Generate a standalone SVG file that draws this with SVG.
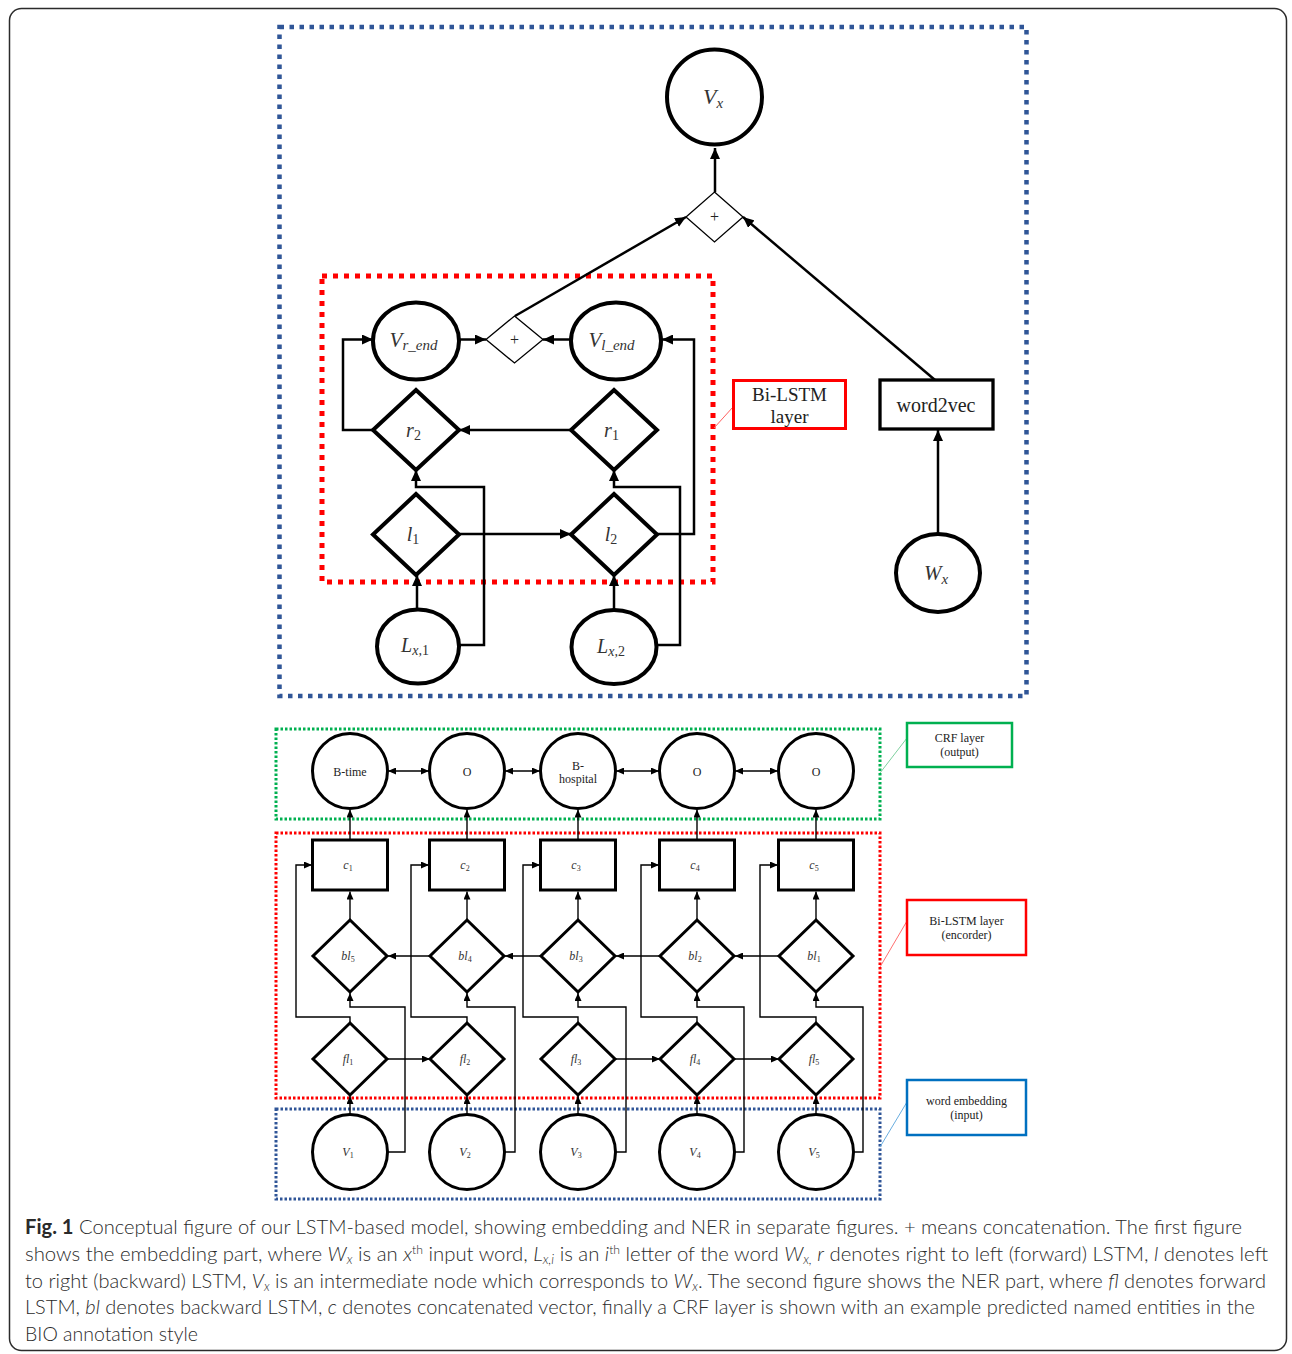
<svg xmlns="http://www.w3.org/2000/svg" width="1292" height="1354" viewBox="0 0 1292 1354">
<defs>
<marker id="ah" markerUnits="userSpaceOnUse" markerWidth="11" markerHeight="10" refX="11" refY="5" orient="auto"><path d="M0,0 L11,5 L0,10 Z" fill="#000"/></marker>
<marker id="as" markerUnits="userSpaceOnUse" markerWidth="8" markerHeight="7" refX="8" refY="3.5" orient="auto-start-reverse"><path d="M0,0 L8,3.5 L0,7 Z" fill="#000"/></marker>
</defs>
<style>
.card{fill:#fff;stroke:#2b2b2b;stroke-width:1.5}
.big{fill:#fff;stroke:#000;stroke-width:4}
.thin{fill:#fff;stroke:#000;stroke-width:1.3}
.sm{fill:#fff;stroke:#000;stroke-width:3}
.k1{fill:none;stroke:#000;stroke-width:2.5}
.k2{fill:none;stroke:#000;stroke-width:1.4}
.fb{fill:none;stroke:#2F5597;stroke-width:4.5;stroke-dasharray:4.5 5.5}
.fr{fill:none;stroke:#FF0000;stroke-width:5;stroke-dasharray:5 6}
.lg{fill:none;stroke:#00B050;stroke-width:3;stroke-dasharray:2.5 2}
.lr{fill:none;stroke:#FF0000;stroke-width:3;stroke-dasharray:2.5 2}
.lb{fill:none;stroke:#2F5597;stroke-width:3;stroke-dasharray:2.5 2}
.math{font-family:"Liberation Serif",serif;font-style:italic;fill:#333}
.up{font-style:normal}
.ser{font-family:"Liberation Serif",serif;fill:#222}
.cap{font-family:Lato,"Open Sans",sans-serif;font-size:20px;font-weight:300;fill:#2a2a2a}
.it{font-style:italic}
</style>
<rect class="card" x="9.5" y="8.5" width="1277" height="1342" rx="12"/>

<!-- frames -->
<g id="frames">
<rect class="fb" x="279.5" y="27" width="747" height="669"/>
<rect class="fr" x="322" y="276" width="391" height="306"/>
<rect class="lg" x="276" y="729" width="604" height="90"/>
<rect class="lr" x="276" y="833" width="604" height="265"/>
<rect class="lb" x="276" y="1109" width="604" height="90"/>
</g>

<!-- connectors -->
<g id="connectors">
<g class="k1">
<path d="M715,192 V148" marker-end="url(#ah)"/>
<path d="M515,316 L686,217" marker-end="url(#ah)"/>
<path d="M935,380 L743,217" marker-end="url(#ah)"/>
<path d="M938,533 V430" marker-end="url(#ah)"/>
<path d="M459,339.5 H486" marker-end="url(#ah)"/>
<path d="M571,339.5 H543" marker-end="url(#ah)"/>
<path d="M571,430 H459" marker-end="url(#ah)"/>
<path d="M373,430 H343 V339.5 H373" marker-end="url(#ah)"/>
<path d="M657,534 H694 V339.5 H662" marker-end="url(#ah)"/>
<path d="M459,534 H571" marker-end="url(#ah)"/>
<path d="M417,610 V575" marker-end="url(#ah)"/>
<path d="M614,610 V575" marker-end="url(#ah)"/>
<path d="M459,645 H484 V487 H416 V470" marker-end="url(#ah)"/>
<path d="M656,645 H680 V487 H614 V470" marker-end="url(#ah)"/>
</g>
<g fill="none" stroke-width="1">
<path d="M733,407 L714,428" stroke="#ff6060"/>
<path d="M907,738 L880,773" stroke="#7fd09f"/>
<path d="M907,921 L880,967" stroke="#ff7070"/>
<path d="M907,1102 L880,1147" stroke="#6aaee0"/>
</g>
<g class="k2">
<path d="M350,840 V809.5" marker-end="url(#as)"/>
<path d="M467,840 V809.5" marker-end="url(#as)"/>
<path d="M578,840 V809.5" marker-end="url(#as)"/>
<path d="M697,840 V809.5" marker-end="url(#as)"/>
<path d="M816,840 V809.5" marker-end="url(#as)"/>
<path d="M388,771 H429" marker-start="url(#as)" marker-end="url(#as)"/>
<path d="M505,771 H540" marker-start="url(#as)" marker-end="url(#as)"/>
<path d="M616,771 H659" marker-start="url(#as)" marker-end="url(#as)"/>
<path d="M735,771 H778" marker-start="url(#as)" marker-end="url(#as)"/>
<path d="M350,920 V891.5" marker-end="url(#as)"/>
<path d="M467,920 V891.5" marker-end="url(#as)"/>
<path d="M578,920 V891.5" marker-end="url(#as)"/>
<path d="M697,920 V891.5" marker-end="url(#as)"/>
<path d="M816,920 V891.5" marker-end="url(#as)"/>
<path d="M779,956 H735" marker-end="url(#as)"/>
<path d="M660,956 H616" marker-end="url(#as)"/>
<path d="M541,956 H505" marker-end="url(#as)"/>
<path d="M430,956 H388" marker-end="url(#as)"/>
<path d="M387,1059 H430" marker-end="url(#as)"/>
<path d="M615,1059 H660" marker-end="url(#as)"/>
<path d="M734,1059 H779" marker-end="url(#as)"/>
<path d="M350,1114.5 V1096" marker-end="url(#as)"/>
<path d="M467,1114.5 V1096" marker-end="url(#as)"/>
<path d="M578,1114.5 V1096" marker-end="url(#as)"/>
<path d="M697,1114.5 V1096" marker-end="url(#as)"/>
<path d="M816,1114.5 V1096" marker-end="url(#as)"/>
<path d="M387.5,1152 H405 V1007 H350 V993" marker-end="url(#as)"/>
<path d="M504.5,1152 H515 V1007 H467 V993" marker-end="url(#as)"/>
<path d="M615.5,1152 H626 V1007 H578 V993" marker-end="url(#as)"/>
<path d="M734.5,1152 H744 V1007 H697 V993" marker-end="url(#as)"/>
<path d="M853.5,1152 H863 V1007 H816 V993" marker-end="url(#as)"/>
<path d="M350,1023 V1017 H296 V865 H312" marker-end="url(#as)"/>
<path d="M467,1023 V1017 H411 V865 H429" marker-end="url(#as)"/>
<path d="M578,1023 V1017 H523 V865 H540" marker-end="url(#as)"/>
<path d="M697,1023 V1017 H641 V865 H659" marker-end="url(#as)"/>
<path d="M816,1023 V1017 H760 V865 H778" marker-end="url(#as)"/>
</g>
</g>

<!-- top figure nodes -->
<g id="Vx"><circle class="big" cx="714.5" cy="97" r="47.5"/><text class="math" x="713" y="104" text-anchor="middle" font-size="22">V<tspan font-size="15" dy="4">x</tspan></text></g>
<g id="plusTop"><polygon class="thin" points="714.5,192 743,217 714.5,242 686,217"/><text class="ser" x="714.5" y="222" text-anchor="middle" font-size="16">+</text></g>
<g id="word2vec"><rect x="880" y="380" width="113" height="49" fill="#fff" stroke="#000" stroke-width="3.3"/><text class="ser" x="936" y="412" text-anchor="middle" font-size="20">word2vec</text></g>
<g id="Wx"><ellipse class="big" cx="938" cy="573" rx="42" ry="39"/><text class="math" x="936" y="580" text-anchor="middle" font-size="21">W<tspan font-size="15" dy="4">x</tspan></text></g>
<g id="labelBiLSTM"><rect x="733.5" y="380.5" width="112" height="48" fill="#fff" stroke="#FF0000" stroke-width="3"/><text class="ser" x="789.5" y="401" text-anchor="middle" font-size="19">Bi-LSTM</text><text class="ser" x="789.5" y="423" text-anchor="middle" font-size="19">layer</text></g>

<g id="Vr_end"><ellipse class="big" cx="416" cy="341" rx="43" ry="38.5"/><text class="math" x="413.5" y="347" text-anchor="middle" font-size="21">V<tspan font-size="15" dy="3">r_end</tspan></text></g>
<g id="plusMid"><polygon class="thin" points="514.5,316 543,339.5 514.5,363 486,339.5"/><text class="ser" x="514.5" y="345" text-anchor="middle" font-size="16">+</text></g>
<g id="Vl_end"><ellipse class="big" cx="616" cy="341" rx="45" ry="38.5"/><text class="math" x="611.5" y="347" text-anchor="middle" font-size="21">V<tspan font-size="15" dy="3">l_end</tspan></text></g>
<g id="r2"><polygon class="big" points="416,390 459,430 416,470 373,430"/><text class="math" x="413.5" y="437" text-anchor="middle" font-size="20">r<tspan class="up" font-size="14" dy="3">2</tspan></text></g>
<g id="r1"><polygon class="big" points="614,390 657,430 614,470 571,430"/><text class="math" x="611.5" y="437" text-anchor="middle" font-size="20">r<tspan class="up" font-size="14" dy="3">1</tspan></text></g>
<g id="l1"><polygon class="big" points="416,494 459,534.5 416,575 373,534.5"/><text class="math" x="413" y="541" text-anchor="middle" font-size="20">l<tspan class="up" font-size="14" dy="3">1</tspan></text></g>
<g id="l2"><polygon class="big" points="614,494 657,534.5 614,575 571,534.5"/><text class="math" x="611" y="541" text-anchor="middle" font-size="20">l<tspan class="up" font-size="14" dy="3">2</tspan></text></g>
<g id="Lx1"><ellipse class="big" cx="418" cy="646.5" rx="41" ry="37"/><text class="math" x="415" y="652" text-anchor="middle" font-size="20">L<tspan font-size="14" dy="3">x,</tspan><tspan class="up" font-size="14">1</tspan></text></g>
<g id="Lx2"><ellipse class="big" cx="614" cy="647" rx="42.5" ry="37"/><text class="math" x="611" y="653" text-anchor="middle" font-size="20">L<tspan font-size="14" dy="3">x,</tspan><tspan class="up" font-size="14">2</tspan></text></g>

<!-- lower figure: CRF -->
<g id="crf1"><ellipse class="sm" cx="350" cy="771" rx="37.5" ry="37.5"/><text class="ser" x="350" y="776" text-anchor="middle" font-size="12">B-time</text></g>
<g id="crf2"><ellipse class="sm" cx="467" cy="771" rx="37.5" ry="37.5"/><text class="ser" x="467" y="776" text-anchor="middle" font-size="12">O</text></g>
<g id="crf3"><ellipse class="sm" cx="578" cy="771" rx="37.5" ry="37.5"/><text class="ser" x="578" y="770" text-anchor="middle" font-size="12">B-</text><text class="ser" x="578" y="783" text-anchor="middle" font-size="12">hospital</text></g>
<g id="crf4"><ellipse class="sm" cx="697" cy="771" rx="37.5" ry="37.5"/><text class="ser" x="697" y="776" text-anchor="middle" font-size="12">O</text></g>
<g id="crf5"><ellipse class="sm" cx="816" cy="771" rx="37.5" ry="37.5"/><text class="ser" x="816" y="776" text-anchor="middle" font-size="12">O</text></g>

<!-- c boxes -->
<g id="c1"><rect class="sm" x="312.5" y="840" width="75" height="50"/><text class="math" x="348" y="869" text-anchor="middle" font-size="12">c<tspan class="up" font-size="8" dy="2">1</tspan></text></g>
<g id="c2"><rect class="sm" x="429.5" y="840" width="75" height="50"/><text class="math" x="465" y="869" text-anchor="middle" font-size="12">c<tspan class="up" font-size="8" dy="2">2</tspan></text></g>
<g id="c3"><rect class="sm" x="540.5" y="840" width="75" height="50"/><text class="math" x="576" y="869" text-anchor="middle" font-size="12">c<tspan class="up" font-size="8" dy="2">3</tspan></text></g>
<g id="c4"><rect class="sm" x="659.5" y="840" width="75" height="50"/><text class="math" x="695" y="869" text-anchor="middle" font-size="12">c<tspan class="up" font-size="8" dy="2">4</tspan></text></g>
<g id="c5"><rect class="sm" x="778.5" y="840" width="75" height="50"/><text class="math" x="814" y="869" text-anchor="middle" font-size="12">c<tspan class="up" font-size="8" dy="2">5</tspan></text></g>

<!-- bl diamonds -->
<g id="bl5"><polygon class="sm" points="350,920 387,956 350,992 313,956"/><text class="math" x="348" y="960" text-anchor="middle" font-size="12">bl<tspan class="up" font-size="8" dy="2">5</tspan></text></g>
<g id="bl4"><polygon class="sm" points="467,920 504,956 467,992 430,956"/><text class="math" x="465" y="960" text-anchor="middle" font-size="12">bl<tspan class="up" font-size="8" dy="2">4</tspan></text></g>
<g id="bl3"><polygon class="sm" points="578,920 615,956 578,992 541,956"/><text class="math" x="576" y="960" text-anchor="middle" font-size="12">bl<tspan class="up" font-size="8" dy="2">3</tspan></text></g>
<g id="bl2"><polygon class="sm" points="697,920 734,956 697,992 660,956"/><text class="math" x="695" y="960" text-anchor="middle" font-size="12">bl<tspan class="up" font-size="8" dy="2">2</tspan></text></g>
<g id="bl1"><polygon class="sm" points="816,920 853,956 816,992 779,956"/><text class="math" x="814" y="960" text-anchor="middle" font-size="12">bl<tspan class="up" font-size="8" dy="2">1</tspan></text></g>

<!-- fl diamonds -->
<g id="fl1"><polygon class="sm" points="350,1023 387,1059 350,1095 313,1059"/><text class="math" x="348" y="1063" text-anchor="middle" font-size="12">fl<tspan class="up" font-size="8" dy="2">1</tspan></text></g>
<g id="fl2"><polygon class="sm" points="467,1023 504,1059 467,1095 430,1059"/><text class="math" x="465" y="1063" text-anchor="middle" font-size="12">fl<tspan class="up" font-size="8" dy="2">2</tspan></text></g>
<g id="fl3"><polygon class="sm" points="578,1023 615,1059 578,1095 541,1059"/><text class="math" x="576" y="1063" text-anchor="middle" font-size="12">fl<tspan class="up" font-size="8" dy="2">3</tspan></text></g>
<g id="fl4"><polygon class="sm" points="697,1023 734,1059 697,1095 660,1059"/><text class="math" x="695" y="1063" text-anchor="middle" font-size="12">fl<tspan class="up" font-size="8" dy="2">4</tspan></text></g>
<g id="fl5"><polygon class="sm" points="816,1023 853,1059 816,1095 779,1059"/><text class="math" x="814" y="1063" text-anchor="middle" font-size="12">fl<tspan class="up" font-size="8" dy="2">5</tspan></text></g>

<!-- V inputs -->
<g id="V1"><ellipse class="sm" cx="350" cy="1152" rx="37.5" ry="37.5"/><text class="math" x="348" y="1156" text-anchor="middle" font-size="12">V<tspan class="up" font-size="8" dy="2">1</tspan></text></g>
<g id="V2"><ellipse class="sm" cx="467" cy="1152" rx="37.5" ry="37.5"/><text class="math" x="465" y="1156" text-anchor="middle" font-size="12">V<tspan class="up" font-size="8" dy="2">2</tspan></text></g>
<g id="V3"><ellipse class="sm" cx="578" cy="1152" rx="37.5" ry="37.5"/><text class="math" x="576" y="1156" text-anchor="middle" font-size="12">V<tspan class="up" font-size="8" dy="2">3</tspan></text></g>
<g id="V4"><ellipse class="sm" cx="697" cy="1152" rx="37.5" ry="37.5"/><text class="math" x="695" y="1156" text-anchor="middle" font-size="12">V<tspan class="up" font-size="8" dy="2">4</tspan></text></g>
<g id="V5"><ellipse class="sm" cx="816" cy="1152" rx="37.5" ry="37.5"/><text class="math" x="814" y="1156" text-anchor="middle" font-size="12">V<tspan class="up" font-size="8" dy="2">5</tspan></text></g>

<!-- layer labels -->
<g id="labelCRF"><rect x="907" y="723" width="105" height="44" fill="#fff" stroke="#00B050" stroke-width="2.5"/><text class="ser" x="959.5" y="742" text-anchor="middle" font-size="12">CRF layer</text><text class="ser" x="959.5" y="756" text-anchor="middle" font-size="12">(output)</text></g>
<g id="labelEncoder"><rect x="907" y="900" width="119" height="55" fill="#fff" stroke="#FF0000" stroke-width="2.5"/><text class="ser" x="966.5" y="925" text-anchor="middle" font-size="12">Bi-LSTM layer</text><text class="ser" x="966.5" y="939" text-anchor="middle" font-size="12">(encorder)</text></g>
<g id="labelEmbedding"><rect x="907" y="1080" width="119" height="55" fill="#fff" stroke="#0070C0" stroke-width="2.5"/><text class="ser" x="966.5" y="1105" text-anchor="middle" font-size="12">word embedding</text><text class="ser" x="966.5" y="1119" text-anchor="middle" font-size="12">(input)</text></g>

<!-- caption -->
<g id="caption" class="cap">
<text x="25" y="1234" textLength="1217" lengthAdjust="spacingAndGlyphs"><tspan font-weight="bold">Fig. 1</tspan> Conceptual figure of our LSTM-based model, showing embedding and NER in separate figures. + means concatenation. The first figure</text>
<text x="25" y="1261" textLength="1243" lengthAdjust="spacingAndGlyphs">shows the embedding part, where <tspan class="it">W</tspan><tspan class="it" font-size="13" dy="3">x</tspan><tspan dy="-3"> is an </tspan><tspan class="it">x</tspan><tspan font-size="12" dy="-7">th</tspan><tspan dy="7"> input word, </tspan><tspan class="it">L</tspan><tspan class="it" font-size="13" dy="3">x,i</tspan><tspan dy="-3"> is an </tspan><tspan class="it">i</tspan><tspan font-size="12" dy="-7">th</tspan><tspan dy="7"> letter of the word </tspan><tspan class="it">W</tspan><tspan class="it" font-size="13" dy="3">x,</tspan><tspan dy="-3"> </tspan><tspan class="it">r</tspan> denotes right to left (forward) LSTM, <tspan class="it">l</tspan> denotes left</text>
<text x="25" y="1288" textLength="1241" lengthAdjust="spacingAndGlyphs">to right (backward) LSTM, <tspan class="it">V</tspan><tspan class="it" font-size="13" dy="3">x</tspan><tspan dy="-3"> is an intermediate node which corresponds to </tspan><tspan class="it">W</tspan><tspan class="it" font-size="13" dy="3">x</tspan><tspan dy="-3">. The second figure shows the NER part, where </tspan><tspan class="it">fl</tspan> denotes forward</text>
<text x="25" y="1314" textLength="1230" lengthAdjust="spacingAndGlyphs">LSTM, <tspan class="it">bl</tspan> denotes backward LSTM, <tspan class="it">c</tspan> denotes concatenated vector, finally a CRF layer is shown with an example predicted named entities in the</text>
<text x="25" y="1341" textLength="173" lengthAdjust="spacingAndGlyphs">BIO annotation style</text>
</g>
</svg>
